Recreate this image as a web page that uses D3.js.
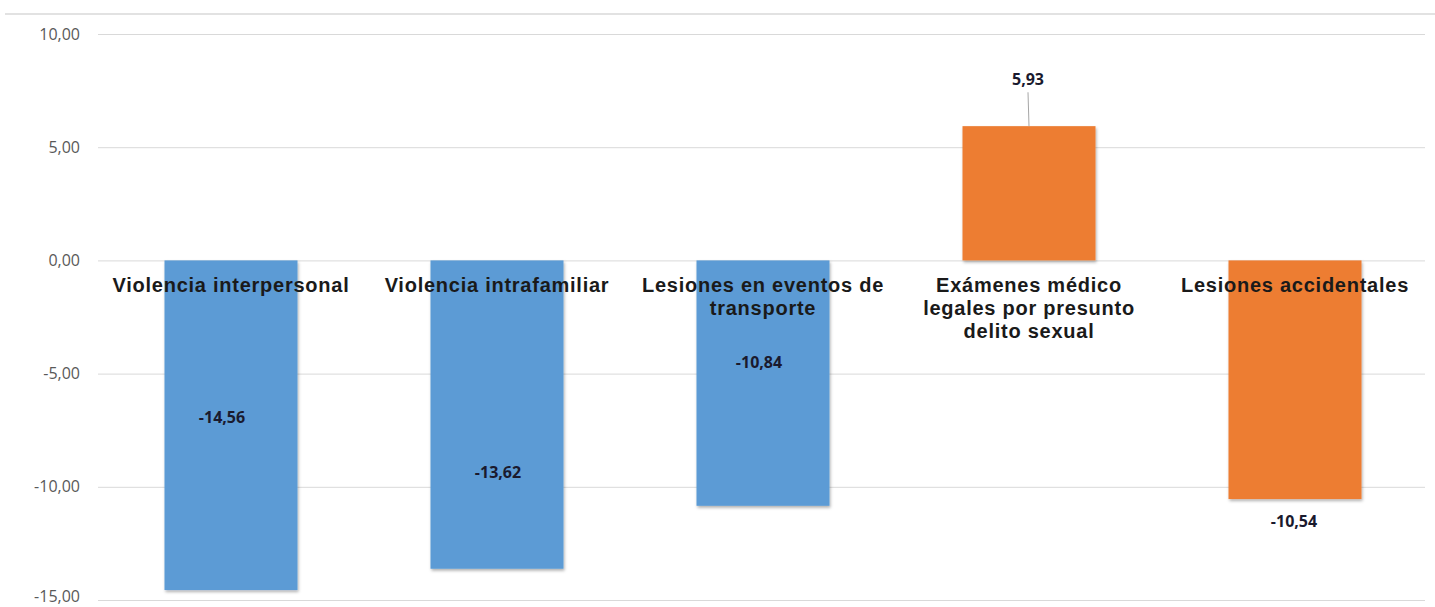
<!DOCTYPE html>
<html>
<head>
<meta charset="utf-8">
<script src="https://cdn.jsdelivr.net/npm/d3@7"></script>
<style>
  html, body { margin: 0; padding: 0; background: #fff; }
  svg { display: block; }
</style>
</head>
<body>
<script>
// chart data
const categories = [
  "Violencia interpersonal",
  "Violencia intrafamiliar",
  "Lesiones en eventos de transporte",
  "Exámenes médico legales por presunto delito sexual",
  "Lesiones accidentales"
];
const categoryLines = [
  ["Violencia interpersonal"],
  ["Violencia intrafamiliar"],
  ["Lesiones en eventos de", "transporte"],
  ["Exámenes médico", "legales por presunto", "delito sexual"],
  ["Lesiones accidentales"]
];
const values = [-14.56, -13.62, -10.84, 5.93, -10.54];
const barColors = ["#5b9bd5", "#5b9bd5", "#5b9bd5", "#ed7d31", "#ed7d31"];
const tickValues = [10, 5, 0, -5, -10, -15];
// where each value label sits (in axis units), as placed in the picture
const labelAnchors = [-6.93, -9.36, -4.5, 8.0, -11.53];
const labelShift = [-9, 1, -4, -1, -1];

const w = 1435, h = 607;
const fmt = v => v.toFixed(2).replace(".", ",");

const svg = d3.select("body").append("svg")
  .attr("width", w)
  .attr("height", h);

const defs = svg.append("defs");
const shadow = defs.append("filter").attr("id", "shadow")
  .attr("x", "-10%").attr("y", "-10%").attr("width", "120%").attr("height", "120%");
shadow.append("feDropShadow")
  .attr("dx", 1).attr("dy", 2).attr("stdDeviation", 1.5)
  .attr("flood-color", "#000").attr("flood-opacity", 0.3);

const x = d3.scaleBand()
  .domain(categories)
  .range([98, 1428])
  .paddingInner(0.5)
  .paddingOuter(0.25);

const y = d3.scaleLinear()
  .domain([-15, 10])
  .range([600, 34]);

// top border line
svg.append("line")
  .attr("x1", 5).attr("x2", w)
  .attr("y1", 14).attr("y2", 14)
  .attr("stroke", "#d9d9d9")
  .attr("stroke-width", 1.5);

// gridlines + tick labels
const yAxis = d3.axisLeft(y)
  .tickValues(tickValues)
  .tickSize(-(1425 - 98))
  .tickPadding(18)
  .tickFormat(fmt);

const gy = svg.append("g")
  .attr("transform", "translate(98,0)")
  .call(yAxis);
gy.select(".domain").remove();
gy.selectAll(".tick line").attr("stroke", "#d9d9d9").attr("stroke-width", 1);
gy.selectAll(".tick text")
  .attr("fill", "#595959")
  .style("font-family", "'Open Sans', sans-serif")
  .style("font-size", "16px");
// lowest label sits on the bottom edge; nudge it up so it stays whole
gy.selectAll(".tick text").filter(d => d === -15).attr("dy", "0.1em");

// bars
svg.append("g").selectAll("rect")
  .data(values)
  .join("rect")
  .attr("x", (d, i) => x(categories[i]))
  .attr("width", x.bandwidth())
  .attr("y", d => y(Math.max(0, d)))
  .attr("height", d => Math.abs(y(d) - y(0)))
  .attr("fill", (d, i) => barColors[i])
  .attr("filter", "url(#shadow)");

// leader line for the positive bar label
values.forEach((v, i) => {
  if (v > 0) {
    const cx = x(categories[i]) + x.bandwidth() / 2;
    svg.append("line")
      .attr("x1", cx + labelShift[i]).attr("x2", cx)
      .attr("y1", y(labelAnchors[i]) + 13)
      .attr("y2", y(v))
      .attr("stroke", "#a6a6a6")
      .attr("stroke-width", 1);
  }
});

// category labels
const catG = svg.append("g");
categoryLines.forEach((lines, i) => {
  const t = catG.append("text")
    .attr("x", x(categories[i]) + x.bandwidth() / 2)
    .attr("y", y(0) + 32)
    .attr("text-anchor", "middle")
    .attr("fill", "#1a1a1a")
    .style("font-family", "'Liberation Sans', Arial, sans-serif")
    .style("font-weight", "bold")
    .style("font-size", "20px")
    .style("letter-spacing", "0.75px");
  lines.forEach((ln, j) => {
    t.append("tspan")
      .attr("x", x(categories[i]) + x.bandwidth() / 2)
      .attr("dy", j === 0 ? 0 : 23)
      .text(ln);
  });
});

// value labels
svg.append("g").selectAll("text")
  .data(values)
  .join("text")
  .attr("x", (d, i) => x(categories[i]) + x.bandwidth() / 2 + labelShift[i])
  .attr("y", (d, i) => y(labelAnchors[i]))
  .attr("dy", "0.35em")
  .attr("text-anchor", "middle")
  .attr("fill", "#1a1a2e")
  .style("font-family", "'Open Sans', sans-serif")
  .style("font-weight", "bold")
  .style("font-size", "16px")
  .text(d => fmt(d));
</script>
</body>
</html>
